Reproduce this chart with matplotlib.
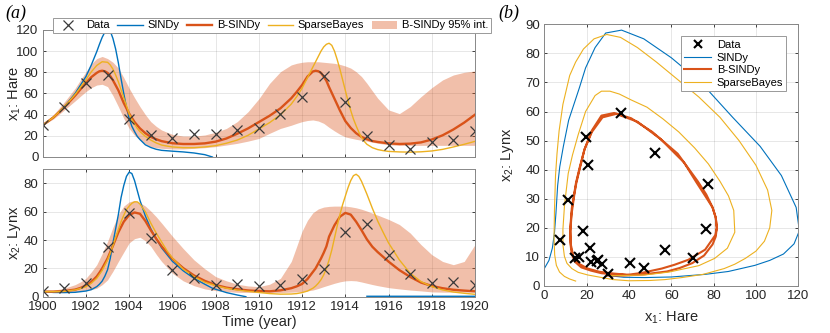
import numpy as np
import matplotlib
matplotlib.use("Agg")
import matplotlib.pyplot as plt
from matplotlib.patches import Patch
from matplotlib.lines import Line2D

plt.rcParams['font.family'] = ['Liberation Sans', 'DejaVu Sans']
plt.rcParams['mathtext.default'] = 'regular'

# ---------------- observed data ----------------
years = [1900, 1901, 1902, 1903, 1904, 1905, 1906, 1907, 1908, 1909, 1910,
         1911, 1912, 1913, 1914, 1915, 1916, 1917, 1918, 1919, 1920]
hare = [30, 47.2, 70.2, 77.4, 36.3, 20.6, 18.1, 21.4, 22, 25.4, 27.1,
        40.3, 57, 76.6, 52.3, 19.5, 11.2, 7.6, 14.6, 16.2, 24.7]
lynx = [4, 6.1, 9.8, 35.2, 59.4, 41.7, 19, 13, 8.3, 9.1, 7.4,
        8, 12.3, 19.5, 45.7, 51.1, 29.7, 15.8, 9.7, 10.1, 8.6]

nan = float('nan')

# ---------------- SINDy trajectory ----------------
t_sindy = [1900, 1900.5, 1901, 1901.5, 1902, 1902.25, 1902.5, 1902.625, 1902.75, 1902.875,
           1903, 1903.125, 1903.25, 1903.375, 1903.5, 1903.625, 1903.75, 1903.875, 1904, 1904.125,
           1904.25, 1904.375, 1904.5, 1904.75, 1905, 1905.25, 1905.5, 1906, 1906.5, 1907,
           1907.5, 1907.85, 1908.5, 1909, 1909.4, 1912, 1915, 1920]
sindy_hare = [30, 37.5, 47.5, 60, 76, 87, 99.5, 106.5, 113, 118,
              120.5, 119, 112, 102, 89, 74, 60, 47, 36.5, 29,
              24, 19.5, 16.5, 11.5, 9, 7.3, 6.3, 5.5, 4.8, 3.8,
              2.2, 0, nan, nan, nan, nan, nan, nan]
sindy_lynx = [3.6, 3.0, 2.9, 3.1, 4, 5, 7.1, 8.8, 11, 14.5,
              19, 27, 38, 48, 58, 70, 78.5, 85, 88, 87,
              82, 75, 68, 57, 48, 41, 34.5, 25, 18.3, 13,
              8.8, 6, 2.9, 1.2, 0, nan, 0.3, 0.3]

# ---------------- B-SINDy trajectory ----------------
t_bsindy = [1900, 1900.5, 1901, 1901.5, 1901.75, 1902, 1902.25, 1902.5, 1902.625, 1902.75,
            1902.875, 1903, 1903.125, 1903.25, 1903.5, 1903.75, 1904, 1904.25, 1904.5, 1904.75,
            1905, 1905.25, 1905.5, 1906, 1906.5, 1907, 1907.5, 1908, 1908.5, 1909,
            1909.5, 1910, 1910.5, 1911, 1911.5, 1911.75, 1912, 1912.25, 1912.5, 1912.625,
            1912.75, 1912.875, 1913, 1913.125, 1913.25, 1913.5, 1913.75, 1914, 1914.25, 1914.5,
            1914.75, 1915, 1915.25, 1915.5, 1916, 1916.5, 1917, 1917.5, 1918, 1918.5,
            1919, 1919.5, 1920]
bsindy_hare = [30, 37.5, 47, 58, 64, 70, 75.5, 79.5, 81, 81.5,
               81, 79.5, 76.5, 72.5, 63, 51, 41, 33, 27, 22.5,
               19, 16.8, 15, 13, 12.3, 12.3, 12.9, 14.5, 17.5, 22,
               27, 33, 39, 46, 55.5, 61.5, 68, 76, 80.8, 81.5,
               81, 79.5, 76, 72, 66, 55, 44, 34, 27.5, 22.5,
               19, 16.8, 15.1, 14.2, 12.9, 12.3, 12.6, 13.8, 16.5, 20.5,
               26, 32.5, 40]
bsindy_lynx = [3.6, 3.6, 4, 5, 6.2, 7.9, 10.5, 14.3, 17, 20,
               23.5, 27, 31.5, 36, 45.5, 53, 57.7, 59.5, 58.6, 53.5,
               47, 41, 35.6, 26.8, 20.2, 15, 11.2, 8.3, 6.4, 5.3,
               4.4, 4, 3.8, 4.5, 6, 7.3, 9, 12.5, 17.5, 20,
               23.5, 27, 31, 35.5, 42.5, 50.5, 56.5, 59.2, 58, 53,
               47, 40.5, 35.3, 31.5, 24.8, 18.8, 14, 10, 7.6, 6,
               4.9, 4.3, 3.8]

# ---------------- SparseBayes trajectory ----------------
t_sbayes = [1900, 1900.5, 1901, 1901.5, 1902, 1902.25, 1902.5, 1902.75, 1903, 1903.125,
            1903.25, 1903.375, 1903.5, 1903.625, 1903.75, 1903.875, 1904, 1904.125, 1904.25, 1904.375,
            1904.5, 1904.75, 1905, 1905.25, 1905.5, 1905.75, 1906, 1906.5, 1907, 1907.5,
            1908, 1908.5, 1909, 1909.5, 1910, 1910.5, 1911, 1911.5, 1911.75, 1912,
            1912.25, 1912.5, 1912.625, 1912.75, 1912.875, 1913, 1913.125, 1913.25, 1913.375, 1913.5,
            1913.625, 1913.75, 1913.875, 1914, 1914.125, 1914.25, 1914.375, 1914.5, 1914.625, 1914.75,
            1914.875, 1915, 1915.25, 1915.5, 1915.75, 1916, 1916.5, 1917, 1917.5, 1918,
            1918.5, 1919, 1919.5, 1920]
sbayes_hare = [30, 37.5, 47.5, 59, 73, 80.5, 86.5, 90, 89.5, 87,
               83, 77.5, 71, 63.5, 56, 48.5, 41, 35.5, 31, 27,
               24, 19.5, 16, 13.3, 11.3, 10.3, 9.5, 8.8, 8.8, 9.5,
               10.7, 13, 16, 20.5, 26.5, 32.5, 40, 50, 57, 65,
               75, 85, 90, 95, 100, 104, 106.5, 107.5, 105.5, 100,
               92, 83, 73, 63, 53, 44, 36, 29.5, 23.5, 18.5,
               14.8, 12, 8.8, 7, 6, 5.3, 4.8, 4.6, 4.9, 5.7,
               7.2, 9.5, 12, 14.8]
sbayes_lynx = [3.6, 3.6, 3.8, 4.8, 7, 9.5, 13, 18.5, 26, 31,
               36, 42, 47.5, 53, 57.5, 61.5, 64, 66, 67, 67,
               65.5, 60, 52, 45, 38.7, 32.5, 27.3, 19.5, 14.2, 10.2,
               7.8, 6, 4.7, 3.8, 3, 2.2, 1.8, 1.9, 2.2, 2.9,
               4, 6, 7.5, 9.5, 12, 15.4, 20, 26, 33, 41.5,
               50, 58, 65, 71, 77, 82, 85.5, 86.5, 85, 81.5,
               77, 72.4, 62.5, 53.4, 45.5, 38, 26, 16.6, 10.7, 7.1,
               4.8, 3.3, 2.4, 1.7]

# ---------------- B-SINDy 95% interval ----------------
t_band = [1900, 1900.5, 1901, 1901.5, 1901.75, 1902, 1902.25, 1902.5, 1902.75, 1903,
          1903.25, 1903.5, 1903.75, 1904, 1904.25, 1904.5, 1904.75, 1905, 1905.25, 1905.5,
          1906, 1906.5, 1907, 1907.5, 1908, 1908.5, 1909, 1909.5, 1910, 1910.5,
          1911, 1911.5, 1911.75, 1912, 1912.25, 1912.5, 1912.75, 1913, 1913.25, 1913.5,
          1913.75, 1914, 1914.25, 1914.5, 1914.75, 1915, 1915.25, 1915.5, 1916, 1916.5,
          1917, 1917.5, 1918, 1918.5, 1919, 1919.5, 1920]
hare_hi = [30, 40, 52, 65, 73, 80.5, 88, 93, 95, 93,
           89.5, 84, 75, 65, 56, 47.6, 40, 33.4, 29, 25.5,
           21.4, 19.8, 19.8, 20.8, 23.3, 27, 33.4, 42.8, 55, 69.6,
           80.6, 87, 88.5, 89.5, 90, 90, 90, 89.5, 89, 88.5,
           87.5, 86, 84, 80.6, 76, 69.6, 62.5, 55.5, 44.5, 41,
           47.6, 57, 65.5, 72.8, 77.5, 80, 81.3]
hare_lo = [30, 36, 44.4, 53, 57.5, 61.8, 65.5, 68, 68.7, 66.5,
           58, 47.6, 36.5, 27, 20.5, 16, 12.5, 9.8, 8.8, 8.2,
           7.6, 7.6, 8.2, 8.8, 9.8, 11.3, 12.9, 15, 17.5, 22.4,
           27, 30, 31.8, 33.4, 34.5, 35, 34, 31.8, 28, 24.6,
           21.5, 19, 17.8, 16.7, 15.8, 15, 14, 13, 11.5, 11,
           11, 11, 11, 11, 11, 11, 11]
lynx_hi = [3.6, 4.5, 6, 8.5, 10.5, 13, 17.5, 22.6, 30.5, 39,
           49, 58, 64, 67, 68, 66.4, 64, 60.5, 56.5, 52,
           42.7, 34, 26, 19.7, 14.2, 11.2, 8.8, 7.6, 7.1, 8.8,
           13, 24.9, 35.5, 46.3, 54, 59.3, 62, 63.3, 63.8, 64,
           64, 64, 63.5, 62.8, 61.8, 60.5, 59, 57.6, 54.6, 51,
           45, 36.8, 29.7, 24.9, 22.6, 24.9, 36.8]
lynx_lo = [3.6, 3.3, 3.1, 3.5, 3.9, 4.3, 5, 6, 8.5, 11.9,
           18, 24.9, 31.5, 38, 41, 42, 39.5, 35.6, 30, 24.9,
           16.6, 11.2, 7.8, 5.5, 4.3, 3.6, 3.1, 3, 2.9, 2.9,
           2.9, 3.2, 3.4, 3.6, 4.1, 4.7, 5.8, 7.1, 8.3, 9.5,
           10.5, 11.2, 11.4, 11.2, 10.4, 9.5, 8.6, 7.8, 6.4, 5.5,
           4.7, 4.1, 3.4, 3.2, 3.2, 3.2, 3.2]

# ---------------- style ----------------
C_SINDY = '#0072BD'
C_BS = '#D95319'
C_SB = '#EDB120'
AX_COL = '#262626'
TICK_FS = 9.5
LAB_FS = 10.5

def style(ax):
    ax.grid(True, color=AX_COL, alpha=0.13, linewidth=0.6)
    ax.set_axisbelow(True)
    for s in ax.spines.values():
        s.set_color('#888888')
        s.set_linewidth(0.7)
    ax.tick_params(direction='in', length=2.5, width=0.6, colors=AX_COL,
                   labelsize=TICK_FS, top=True, right=True, pad=3)

fig = plt.figure(figsize=(8.30, 3.33), dpi=100)

W, H = 830.0, 333.0
def rect(x0, y0, x1, y1):
    return [x0 / W, 1 - y1 / H, (x1 - x0) / W, (y1 - y0) / H]

ax1 = fig.add_axes(rect(42.7, 30, 475, 157))
ax2 = fig.add_axes(rect(42.7, 169.3, 475, 296.7))
ax3 = fig.add_axes(rect(544.3, 24.3, 798.3, 286))

# top: hare
ax1.fill_between(t_band, hare_lo, hare_hi, color=C_BS, alpha=0.37, linewidth=0)
ax1.plot(t_sindy, sindy_hare, color=C_SINDY, lw=1.0)
ax1.plot(t_bsindy, bsindy_hare, color=C_BS, lw=1.7)
ax1.plot(t_sbayes, sbayes_hare, color=C_SB, lw=1.0)
ax1.plot(years, hare, 'x', color='#3a3a3a', ms=7, mew=0.9)
ax1.set_xlim(1900, 1920)
ax1.set_ylim(0, 120)
ax1.set_xticks(range(1900, 1921, 2))
ax1.set_xticklabels([])
ax1.set_yticks(range(0, 121, 20))
ax1.set_ylabel('x$_1$: Hare', fontsize=LAB_FS, color=AX_COL)
ax1.yaxis.set_label_coords(-0.046, 0.5)
style(ax1)

# bottom: lynx
ax2.fill_between(t_band, lynx_lo, lynx_hi, color=C_BS, alpha=0.37, linewidth=0)
ax2.plot(t_sindy, sindy_lynx, color=C_SINDY, lw=1.0)
ax2.plot(t_bsindy, bsindy_lynx, color=C_BS, lw=1.7)
ax2.plot(t_sbayes, sbayes_lynx, color=C_SB, lw=1.0)
ax2.plot(years, lynx, 'x', color='#3a3a3a', ms=7, mew=0.9)
ax2.set_xlim(1900, 1920)
ax2.set_ylim(0, 90)
ax2.set_xticks(range(1900, 1921, 2))
ax2.set_yticks(range(0, 81, 20))
ax2.set_xlabel('Time (year)', fontsize=LAB_FS, color=AX_COL)
ax2.xaxis.set_label_coords(0.5, -0.14)
ax2.set_ylabel('x$_2$: Lynx', fontsize=LAB_FS, color=AX_COL)
ax2.yaxis.set_label_coords(-0.046, 0.5)
style(ax2)

# phase plane
ax3.plot(sindy_hare, sindy_lynx, color=C_SINDY, lw=0.8)
ax3.plot(bsindy_hare, bsindy_lynx, color=C_BS, lw=1.5)
ax3.plot(sbayes_hare, sbayes_lynx, color=C_SB, lw=0.8)
ax3.plot(hare, lynx, 'x', color='black', ms=7, mew=1.5)
ax3.set_xlim(0, 120)
ax3.set_ylim(0, 90)
ax3.set_xticks(range(0, 121, 20))
ax3.set_yticks(range(0, 91, 10))
ax3.set_xlabel('x$_1$: Hare', fontsize=LAB_FS, color=AX_COL)
ax3.xaxis.set_label_coords(0.5, -0.09)
ax3.set_ylabel('x$_2$: Lynx', fontsize=LAB_FS, color=AX_COL)
ax3.yaxis.set_label_coords(-0.11, 0.5)
style(ax3)

# legends
h_data = Line2D([], [], ls='none', marker='x', color='#3a3a3a', ms=7, mew=0.9)
h_sindy = Line2D([], [], color=C_SINDY, lw=1.0)
h_bs = Line2D([], [], color=C_BS, lw=1.7)
h_sb = Line2D([], [], color=C_SB, lw=1.0)
h_band = Patch(facecolor=C_BS, alpha=0.37, edgecolor='none')
leg = fig.legend([h_data, h_sindy, h_bs, h_sb, h_band],
                 ['Data', 'SINDy', 'B-SINDy', 'SparseBayes', 'B-SINDy 95% int.'],
                 loc='center', bbox_to_anchor=(272 / W, 1 - 25.5 / H), ncol=5,
                 fontsize=8, frameon=True, fancybox=False, handlelength=2.3,
                 handletextpad=0.4, columnspacing=0.7, borderpad=0.25,
                 edgecolor='#999999', framealpha=1)
leg.get_frame().set_linewidth(0.7)

h_data2 = Line2D([], [], ls='none', marker='x', color='black', ms=6, mew=1.5)
h_sindy2 = Line2D([], [], color=C_SINDY, lw=0.8)
h_bs2 = Line2D([], [], color=C_BS, lw=1.5)
h_sb2 = Line2D([], [], color=C_SB, lw=0.8)
leg2 = ax3.legend([h_data2, h_sindy2, h_bs2, h_sb2],
                  ['Data', 'SINDy', 'B-SINDy', 'SparseBayes'],
                  loc='upper right', bbox_to_anchor=(0.975, 0.975), fontsize=8,
                  frameon=True, fancybox=False, handlelength=2.4,
                  handletextpad=0.5, borderpad=0.3, labelspacing=0.25,
                  edgecolor='#999999', framealpha=1)
leg2.get_frame().set_linewidth(0.7)

fig.text(5 / W, 1 - 13 / H, '(a)', fontsize=13, fontstyle='italic',
         family=['Liberation Serif', 'DejaVu Serif'], va='center', ha='left')
fig.text(498 / W, 1 - 13 / H, '(b)', fontsize=13, fontstyle='italic',
         family=['Liberation Serif', 'DejaVu Serif'], va='center', ha='left')

fig.savefig('out.png', dpi=100)
